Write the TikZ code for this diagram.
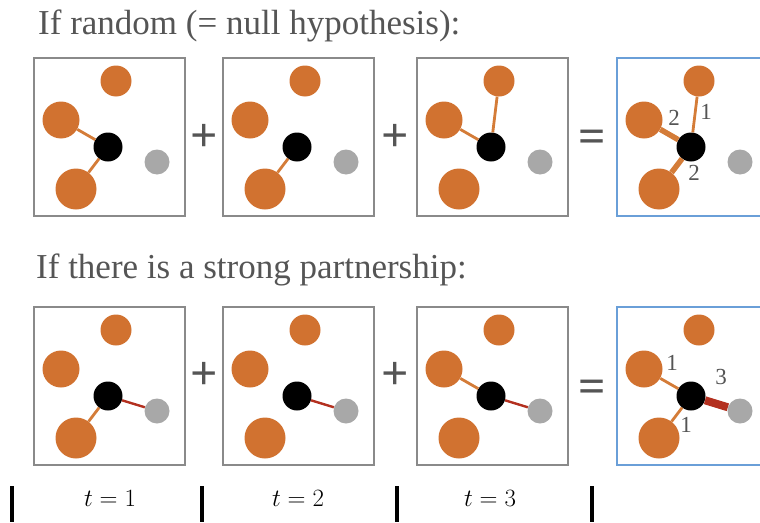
\documentclass[tikz,border=0pt]{standalone}
\usepackage{fontspec}
\setmainfont{Liberation Serif}
\usepackage{amsmath}
\usetikzlibrary{positioning}
\definecolor{dotorange}{HTML}{D17230}
\definecolor{edgeorange}{HTML}{D47C38}
\definecolor{edgered}{HTML}{B3301F}
\definecolor{dotgray}{HTML}{A8A8A8}
\definecolor{boxgray}{HTML}{8A8A8A}
\definecolor{boxblue}{HTML}{6A9FD8}
\definecolor{txtgray}{HTML}{555555}

\begin{document}
\begin{tikzpicture}[x=1pt,y=-1pt,
  panel/.style={draw=boxgray,line width=1.8pt},
  sumpanel/.style={draw=boxblue,line width=1.8pt},
  odot/.style={circle,fill=dotorange,inner sep=0pt,minimum size=#1},
  kdot/.style={circle,fill=black,inner sep=0pt,minimum size=29pt},
  gdot/.style={circle,fill=dotgray,inner sep=0pt,minimum size=25pt},
  oedge/.style={edgeorange,line width=2.8pt},
  redge/.style={edgered,line width=2.4pt},
  sym/.style={text=txtgray,font=\fontsize{48}{48}\selectfont\bfseries},
  wlabel/.style={text=txtgray,font=\fontsize{23}{23}\selectfont,inner sep=0pt},
  tlabel/.style={anchor=base,font=\fontsize{26}{26}\selectfont},
  title/.style={text=txtgray,font=\fontsize{35}{35}\selectfont,anchor=base west,inner sep=0pt}]
\useasboundingbox (0,0) rectangle (760,522);

% headings
\node[title] (head1) at (38,34) {If random (= null hypothesis):};
\node[title] (head2) at (36,278) {If there is a strong partnership:};

% the eight panels, same dots in each
\foreach \pn/\px/\py/\sty in {a1/34/58/panel,a2/223/58/panel,a3/417/58/panel,a4/617/58/sumpanel,
  b1/34/307/panel,b2/223/307/panel,b3/417/307/panel,b4/617/307/sumpanel}{
  \begin{scope}[shift={(\px,\py)}]
    \draw[\sty] (0,0) rectangle (151,158);
    \node[odot=31pt] (\pn-top) at (82,23) {};
    \node[odot=37pt] (\pn-left) at (27,62) {};
    \node[odot=41pt] (\pn-bot) at (42,131) {};
    \node[gdot] (\pn-gray) at (123,104) {};
    \node[kdot] (\pn-blk) at (74,89) {};
  \end{scope}
}

% random
\draw[oedge] (a1-blk) -- (a1-left);
\draw[oedge] (a1-blk) -- (a1-bot);
\draw[oedge] (a2-blk) -- (a2-bot);
\draw[oedge] (a3-blk) -- (a3-left);
\draw[oedge] (a3-blk) -- (a3-top);
\draw[oedge,line width=5.5pt] (a4-blk) -- (a4-left);
\draw[oedge,line width=5.5pt] (a4-blk) -- (a4-bot);
\draw[oedge] (a4-blk) -- (a4-top);

% partnership
\draw[oedge] (b1-blk) -- (b1-bot);
\draw[redge] (b1-blk) -- (b1-gray);
\draw[redge] (b2-blk) -- (b2-gray);
\draw[oedge] (b3-blk) -- (b3-left);
\draw[redge] (b3-blk) -- (b3-gray);
\draw[oedge] (b4-blk) -- (b4-left);
\draw[oedge] (b4-blk) -- (b4-bot);
\draw[redge,line width=8pt] (b4-blk) -- (b4-gray);

% weights
\node[wlabel] (wa-left) at (674,118) {2};
\node[wlabel] (wa-top) at (706,112) {1};
\node[wlabel] (wa-bot) at (694,173) {2};
\node[wlabel] (wb-left) at (672,363) {1};
\node[wlabel] (wb-gray) at (721,377) {3};
\node[wlabel] (wb-bot) at (686,425) {1};

% operators
\node[sym] (plus-a1) at (204,138) {+};
\node[sym] (plus-a2) at (395,138) {+};
\node[sym] (eq-a) at (592,141) {=};
\node[sym] (plus-b1) at (204,376) {+};
\node[sym] (plus-b2) at (395,376) {+};
\node[sym] (eq-b) at (592,391) {=};

% time axis
\foreach \bx in {12,202,397,592}
  \draw[line width=4pt] (\bx,486) -- (\bx,522);
\node[tlabel] (t1) at (110,506) {$t=1$};
\node[tlabel] (t2) at (298,506) {$t=2$};
\node[tlabel] (t3) at (490,506) {$t=3$};
\end{tikzpicture}
\end{document}
